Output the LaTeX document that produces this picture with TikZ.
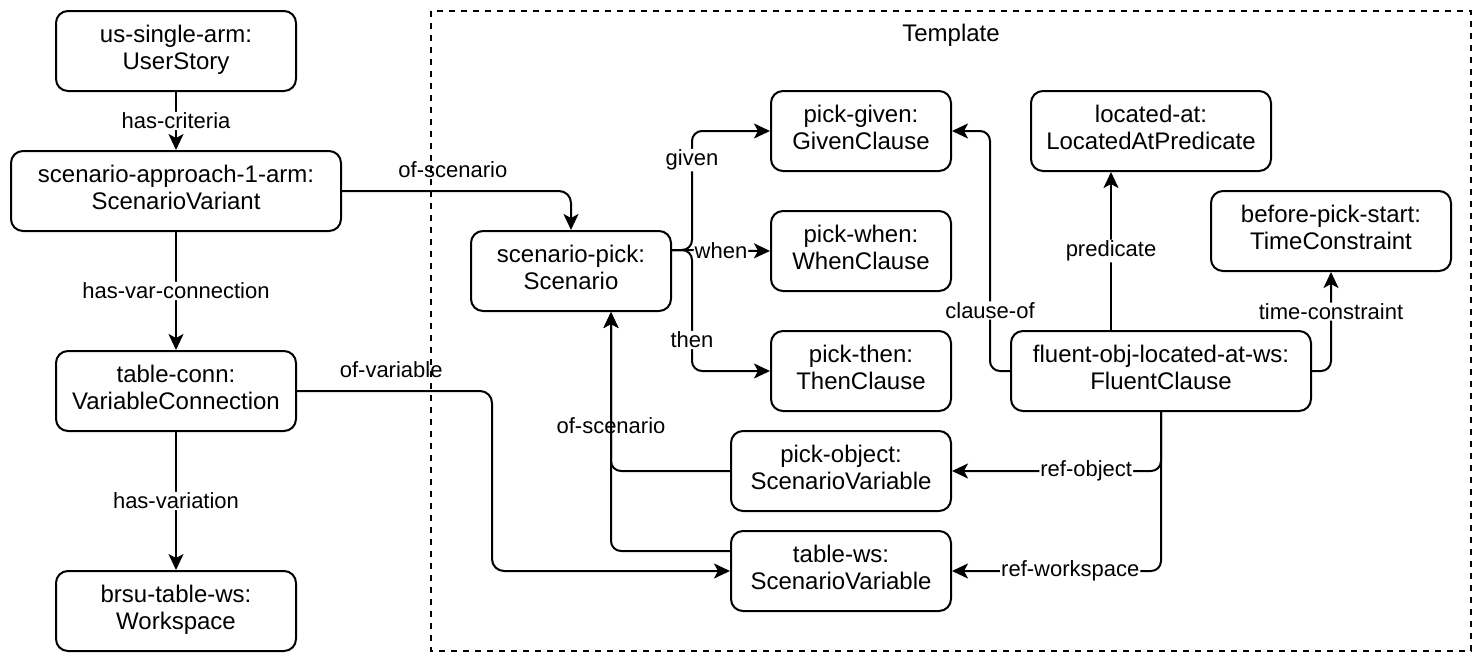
\documentclass[tikz,border=0pt]{standalone}
\usepackage{fontspec}
\setmainfont{Liberation Sans}
\usetikzlibrary{arrows.meta,calc}
\newcommand\boxfont{\fontsize{24}{27}\selectfont}
\newcommand\lblfont{\fontsize{22}{26}\selectfont}
\begin{document}
\begin{tikzpicture}[x=1pt,y=-1pt,
  box/.style={draw,line width=2pt,rounded corners=12pt,align=center,inner sep=0pt,minimum height=80pt,text depth=7pt,font=\boxfont},
  conn/.style={line width=2pt,rounded corners=10pt,-{Stealth[length=16pt,width=15pt,inset=4pt]}},
  lbl/.style={font=\lblfont,fill=white,inner sep=1pt},
  freelbl/.style={font=\lblfont,inner sep=1pt},
  tmpl/.style={draw,line width=2pt,dash pattern=on 6pt off 6pt}]
\useasboundingbox (0,0) rectangle (1484,664);
% template container
\draw[tmpl] (431,11) rectangle (1471,651);
\node[font=\boxfont] (tmpltitle) at (951,35) {Template};
% nodes
\node[box,minimum width=240pt] (us) at (176,51) {us-single-arm:\\UserStory};
\node[box,minimum width=330pt] (sa) at (176,191) {scenario-approach-1-arm:\\ScenarioVariant};
\node[box,minimum width=240pt] (tc) at (176,391) {table-conn:\\VariableConnection};
\node[box,minimum width=240pt] (bt) at (176,611) {brsu-table-ws:\\Workspace};
\node[box,minimum width=200pt] (sp) at (571,271) {scenario-pick:\\Scenario};
\node[box,minimum width=180pt] (pg) at (861,131) {pick-given:\\GivenClause};
\node[box,minimum width=180pt] (pw) at (861,251) {pick-when:\\WhenClause};
\node[box,minimum width=180pt] (pt) at (861,371) {pick-then:\\ThenClause};
\node[box,minimum width=240pt] (la) at (1151,131) {located-at:\\LocatedAtPredicate};
\node[box,minimum width=240pt] (bp) at (1331,231) {before-pick-start:\\TimeConstraint};
\node[box,minimum width=300pt] (fl) at (1161,371) {fluent-obj-located-at-ws:\\FluentClause};
\node[box,minimum width=220pt] (po) at (841,471) {pick-object:\\ScenarioVariable};
\node[box,minimum width=220pt] (tw) at (841,571) {table-ws:\\ScenarioVariable};
% left column
\draw[conn] (us.south) -- node[lbl]{has-criteria} (sa.north);
\draw[conn] (sa.south) -- node[lbl]{has-var-connection} (tc.north);
\draw[conn] (tc.south) -- node[lbl]{has-variation} (bt.north);
% to template
\draw[conn,rounded corners=12pt] (sa.east) -| node[freelbl,pos=0.242,yshift=21.5pt]{of-scenario} (sp.north);
\draw[conn,rounded corners=12pt] (tc.east) -- node[freelbl,pos=0.483,yshift=21pt]{of-variable} ++(195,0) |- (tw.west);
% scenario clauses
\coordinate (spx) at ([yshift=-20pt]sp.north east);
\draw[conn] (spx) -- ++(20,0) |- node[lbl,pos=0.378]{given} (pg.west);
\draw[conn] (spx) -- node[lbl]{when} (pw.west);
\draw[conn] (spx) -- ++(20,0) |- node[lbl,pos=0.372]{then} (pt.west);
% fluent clause
\draw[conn] (fl.west) -- ++(-20,0) |- node[lbl,pos=0.126]{clause-of} (pg.east);
\draw[conn] ([xshift=-50pt]fl.north) -- node[lbl]{predicate} ([xshift=-50pt]fl.north |- la.south);
\draw[conn] (fl.east) -| node[lbl,pos=0.8]{time-constraint} (bp.south);
\draw[conn] (fl.south) |- node[lbl,pos=0.679]{ref-object} (po.east);
\draw[conn] (fl.south) |- node[lbl,pos=0.717]{ref-workspace} (tw.east);
% variables to scenario
\draw[conn] (po.west) -| node[freelbl,pos=0.642]{of-scenario} ([xshift=40pt]sp.south);
\draw[conn] ([yshift=20pt]tw.west) -| ([xshift=40pt]sp.south);
\end{tikzpicture}
\end{document}
